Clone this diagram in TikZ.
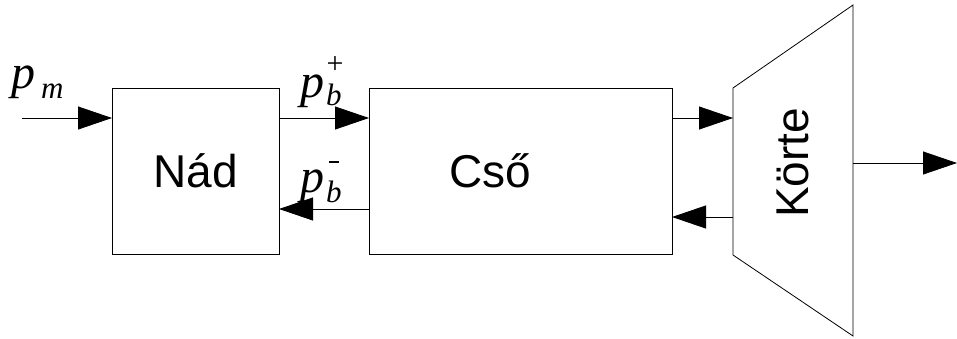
\documentclass[tikz,border=0pt]{standalone}
\usepackage{fontspec}
\setmainfont{Liberation Sans}
\newfontfamily\mathserif{Liberation Serif}
\usetikzlibrary{arrows.meta}
\begin{document}
\begin{tikzpicture}[x=1pt,y=-1pt,
  blk/.style={draw,line width=0.8pt},
  conn/.style={line width=0.8pt,-{Triangle[length=34pt,width=23pt]}},
  boxtext/.style={font=\fontsize{46}{46}\selectfont,inner sep=0pt},
  pbig/.style={font=\fontsize{48}{48}\selectfont\mathserif\itshape,inner sep=0pt,anchor=base west},
  psmall/.style={font=\fontsize{31}{31}\selectfont\mathserif\itshape,inner sep=0pt,anchor=base west},
  psign/.style={font=\fontsize{30}{30}\selectfont\mathserif,inner sep=0pt}]
\useasboundingbox (0,0) rectangle (957,338);
% boxes
\draw[blk] (112,88) rectangle (279,254);
\node[boxtext] (nad) at (195.5,171) {Nád};
\draw[blk] (369,88) rectangle (672,254);
\node[boxtext] (cso) at (490,171) {Cső};
\draw[blk] (733,88) -- (853,5) -- (853,336) -- (733,255) -- cycle;
\node[boxtext,rotate=90] (korte) at (793,163) {Körte};
% connector points
\coordinate (in0) at (22,118);
\coordinate (nadin) at (112,118);
\coordinate (nadR1) at (279,118);
\coordinate (csoL1) at (369,118);
\coordinate (csoL2) at (369,209);
\coordinate (nadR2) at (279,209);
\coordinate (csoR1) at (672,118);
\coordinate (korL1) at (733,118);
\coordinate (korL2) at (733,217);
\coordinate (csoR2) at (672,217);
\coordinate (korR) at (853,163);
\coordinate (out) at (957,163);
\draw[conn] (in0) -- (nadin);
\draw[conn] (nadR1) -- (csoL1);
\draw[conn] (csoL2) -- (nadR2);
\draw[conn] (csoR1) -- (korL1);
\draw[conn] (korL2) -- (csoR2);
\draw[conn] (korR) -- (out);
% labels
\node[pbig] (pm) at (11,88) {p};
\node[psmall] (pmsub) at (41,98) {m};
\node[pbig] (pp) at (300,97) {p};
\node[psmall] (ppsub) at (326,105) {b};
\node[psign] (ppsign) at (335,65) {+};
\node[pbig] (pn) at (300,192) {p};
\node[psmall] (pnsub) at (326,202) {b};
\node[psign] (pnsign) at (334,162) {\rule{10pt}{1.3pt}};
\end{tikzpicture}
\end{document}
